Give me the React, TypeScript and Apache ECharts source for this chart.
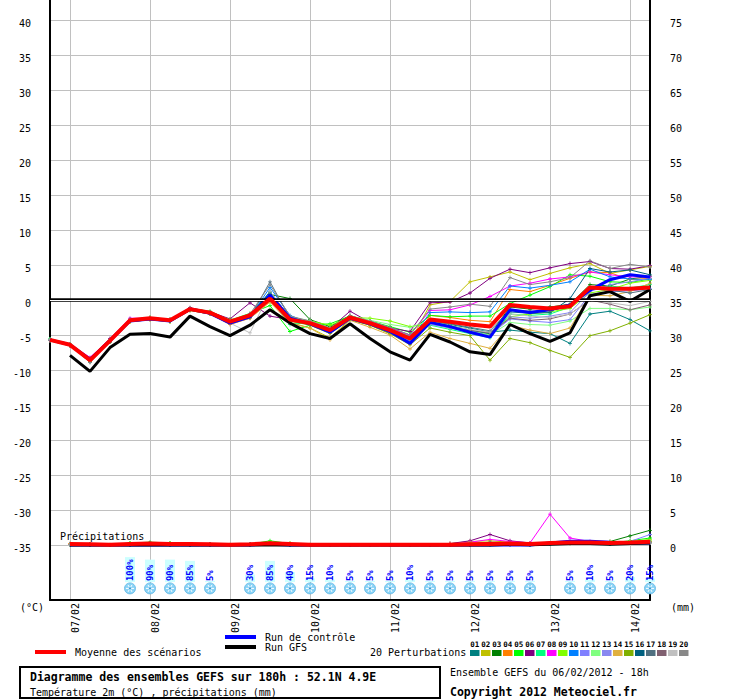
import React, { useEffect, useRef } from 'react';
import * as echarts from 'echarts';

const MONO = '"DejaVu Sans Mono", monospace';

const categories = [
  '06/02 18h', '07/02 00h', '07/02 06h', '07/02 12h', '07/02 18h',
  '08/02 00h', '08/02 06h', '08/02 12h', '08/02 18h',
  '09/02 00h', '09/02 06h', '09/02 12h', '09/02 18h',
  '10/02 00h', '10/02 06h', '10/02 12h', '10/02 18h',
  '11/02 00h', '11/02 06h', '11/02 12h', '11/02 18h',
  '12/02 00h', '12/02 06h', '12/02 12h', '12/02 18h',
  '13/02 00h', '13/02 06h', '13/02 12h', '13/02 18h',
  '14/02 00h', '14/02 06h',
];

const TEMP_TICKS = [-35, -30, -25, -20, -15, -10, -5, 0, 5, 10, 15, 20, 25, 30, 35, 40];
const PRECIP_TICKS = [0, 5, 10, 15, 20, 25, 30, 35, 40, 45, 50, 55, 60, 65, 70, 75];

// Temperatures 2m (°C)
const MEAN_T = [-5.7, -6.4, -8.6, -5.8, -2.9, -2.6, -2.9, -1.3, -1.8, -3.1, -2.2, 0.2, -2.8, -3.3, -4.3, -2.5, -3.3, -4.3, -5.5, -2.8, -3.1, -3.5, -3.8, -0.7, -1.0, -1.2, -0.9, 1.8, 1.6, 1.6, 1.8];
const GFS_T = [null, -7.9, -10.2, -6.8, -4.9, -4.8, -5.3, -2.3, -3.8, -5.1, -3.6, -1.4, -3.3, -4.8, -5.5, -3.4, -5.5, -7.4, -8.6, -4.9, -6.0, -7.4, -7.8, -3.5, -4.8, -5.9, -4.7, 0.6, 1.2, -0.2, 1.5];
const CTRL_T = [-5.7, -6.4, -8.5, -5.8, -3.0, -2.7, -3.0, -1.3, -1.9, -3.3, -2.4, 0.7, -2.6, -3.4, -4.6, -2.6, -3.4, -4.5, -6.2, -3.2, -3.8, -4.6, -5.3, -1.4, -1.8, -1.4, -0.7, 1.4, 2.9, 3.6, 3.3];

const PERT_T = [
  [-5.6, -6.3, -8.7, -5.7, -3.0, -2.7, -3.0, -1.4, -1.9, -3.0, -2.0, 1.0, -2.5, -3.0, -4.0, -2.4, -3.0, -4.0, -5.0, -3.0, -3.5, -4.0, -4.6, -4.3, -4.6, -4.8, -6.2, -2.0, -1.6, -2.8, -4.4],
  [-5.7, -6.4, -8.5, -5.6, -2.8, -2.5, -2.8, -1.2, -1.7, -3.2, -2.3, 0.5, -3.2, -4.0, -5.4, -2.8, -3.6, -4.8, -6.0, -0.7, -0.2, 2.6, 3.3, 4.0, 2.9, 3.8, 4.6, 5.2, 3.8, 4.3, 4.8],
  [-5.7, -6.5, -8.6, -5.9, -2.9, -2.6, -2.9, -1.3, -1.8, -3.0, -2.1, 0.8, 0.2, -2.8, -3.8, -2.2, -3.1, -4.2, -5.4, -3.3, -3.8, -4.4, -4.9, -1.0, -1.3, -1.0, -0.6, 2.2, 2.0, 3.0, 3.4],
  [-5.8, -6.4, -8.7, -5.9, -3.1, -2.8, -3.0, -1.4, -2.0, -3.5, -2.6, -0.2, -3.0, -3.5, -4.7, -2.7, -3.5, -4.6, -6.3, -2.2, -2.5, -2.9, -3.1, 1.5, 1.2, 2.1, 3.1, 4.0, 3.9, 2.9, 3.1],
  [-5.6, -6.3, -8.4, -5.7, -2.8, -2.5, -2.8, -1.2, -1.6, -2.9, -1.9, -0.8, -4.5, -3.6, -3.4, -2.3, -3.0, -3.8, -4.6, -2.2, -2.4, -2.3, -2.3, -0.5, 0.7, 1.9, 3.6, 3.4, 2.6, 2.5, 3.0],
  [-5.7, -6.4, -8.3, -5.5, -2.7, -2.6, -2.8, -1.1, -1.7, -2.7, -0.4, -2.3, -2.8, -3.0, -4.1, -1.6, -3.2, -4.0, -4.5, -0.4, -0.3, 1.0, 3.1, 4.4, 3.9, 4.6, 5.2, 5.5, 4.5, 4.4, 4.9],
  [-5.6, -6.4, -8.6, -5.8, -2.9, -2.6, -2.9, -1.3, -1.8, -3.1, -2.2, 0.3, -3.5, -3.2, -4.2, -2.4, -3.2, -4.1, -5.2, -3.6, -4.2, -4.8, -5.4, -2.0, -2.2, -2.0, -1.0, 1.5, 2.0, 1.7, 2.2],
  [-5.7, -6.3, -8.2, -5.6, -2.6, -2.6, -2.9, -1.3, -1.8, -3.0, -2.0, 0.5, -2.7, -3.2, -4.2, -2.3, -3.0, -4.1, -5.0, -1.5, -1.4, -0.7, 0.5, 2.0, 2.4, 3.0, 3.3, 4.0, 3.6, 3.3, 3.3],
  [-5.7, -6.3, -8.4, -5.7, -3.0, -2.7, -3.1, -1.4, -1.9, -2.8, -2.3, 0.0, -2.9, -3.0, -3.6, -2.5, -2.6, -3.0, -3.8, -3.4, -3.9, -4.4, -4.9, -2.4, -2.0, -1.7, -1.2, 1.0, 1.5, 2.4, 2.8],
  [-5.8, -6.5, -8.7, -5.9, -3.0, -2.7, -3.0, -1.4, -1.9, -3.2, -2.4, 1.8, -2.2, -3.3, -4.4, -2.6, -3.4, -4.4, -5.8, -1.8, -1.7, -1.8, -1.7, 2.0, 1.7, 2.1, 2.6, 4.4, 3.3, 3.0, 2.9],
  [-5.7, -6.4, -8.6, -5.8, -2.9, -2.7, -3.0, -1.3, -1.8, -3.1, -2.4, 0.4, -2.9, -3.5, -4.5, -2.7, -3.5, -4.6, -6.0, -3.4, -3.9, -4.4, -5.0, -2.7, -3.0, -3.2, -2.8, 0.8, 1.2, 1.3, 1.6],
  [-5.6, -6.3, -8.5, -5.7, -2.8, -2.6, -2.9, -1.3, -1.8, -3.0, -2.1, 0.0, -2.4, -3.0, -4.0, -2.3, -2.9, -3.5, -3.9, -3.0, -3.6, -4.3, -5.0, -3.2, -3.5, -3.6, -3.0, -1.2, -1.2, -1.4, -1.0],
  [-5.7, -6.4, -8.7, -5.9, -3.0, -2.7, -3.0, -1.4, -1.9, -3.2, -2.3, 0.2, -2.8, -3.4, -4.5, -2.6, -3.4, -4.4, -5.8, -3.5, -4.0, -4.6, -5.2, -2.4, -2.6, -2.3, -1.8, 1.2, 2.2, 2.6, 3.1],
  [-5.8, -6.5, -8.8, -6.0, -3.1, -2.8, -3.1, -1.5, -2.0, -3.4, -2.6, -0.3, -3.3, -4.0, -5.7, -2.9, -3.9, -5.0, -7.0, -4.6, -5.5, -6.2, -6.9, -3.6, -4.3, -4.8, -4.0, 0.7, 0.6, 1.2, 2.4],
  [-5.7, -6.5, -8.8, -6.0, -3.1, -2.8, -3.1, -1.5, -2.0, -3.3, -2.5, 0.3, -3.0, -3.6, -4.8, -2.8, -3.6, -4.8, -6.4, -4.0, -4.6, -5.1, -8.6, -5.5, -6.1, -7.2, -8.2, -5.1, -4.4, -3.3, -2.1],
  [-5.7, -6.4, -8.6, -5.8, -2.9, -2.7, -3.0, -1.3, -1.8, -3.1, -2.2, 1.2, -2.5, -3.2, -4.3, -2.6, -3.3, -4.3, -5.6, -3.2, -3.7, -4.3, -4.8, -1.7, -1.9, -1.8, 0.2, 4.5, 4.0, 4.3, 3.6],
  [-5.8, -6.5, -8.9, -6.0, -3.0, -2.7, -3.0, -1.4, -1.9, -3.3, -2.5, 2.6, -2.6, -3.3, -4.4, -2.5, -3.3, -4.2, -5.6, -3.0, -3.4, -3.9, -4.4, -1.4, -1.6, -1.5, -0.9, 1.6, 1.4, 1.0, 1.5],
  [-5.7, -6.4, -8.6, -5.8, -2.9, -2.6, -2.9, -1.3, -1.8, -3.1, -2.2, 0.6, -2.7, -3.3, -4.3, -2.5, -3.3, -4.3, -5.7, -3.2, -3.8, -4.3, -4.7, -2.6, -2.9, -2.7, -2.0, 0.0, -0.6, -1.4, -0.7],
  [-5.7, -6.4, -8.6, -5.8, -2.9, -2.6, -2.9, -1.3, -1.8, -3.3, -4.7, 1.2, -2.5, -3.1, -4.2, -2.4, -3.2, -4.3, -5.6, -3.3, -3.8, -4.2, -4.6, -2.0, -2.3, -2.5, -2.0, 0.0, -0.4, -0.8, -0.2],
  [-5.8, -6.5, -8.9, -5.6, -2.8, -2.5, -2.8, -1.2, -1.7, -3.0, -2.0, 2.2, -2.3, -3.0, -4.0, -2.3, -3.0, -3.9, -5.0, -1.3, -1.0, -0.6, -0.9, 3.2, 2.2, 2.6, 3.2, 5.6, 4.5, 5.1, 4.7],
];

// Precipitation (mm)
const MEAN_P = [null, 0.15, 0.1, 0.05, 0.15, 0.2, 0.15, 0.15, 0.1, 0.05, 0.1, 0.25, 0.15, 0.05, 0.05, 0.05, 0.05, 0.05, 0.05, 0.05, 0.05, 0.1, 0.15, 0.2, 0.15, 0.3, 0.35, 0.35, 0.3, 0.35, 0.45];
const CTRL_P = [null, 0, 0, 0, 0, 0, 0, 0, 0, 0, 0, 0.1, 0, 0, 0, 0, 0, 0, 0, 0, 0, 0, 0, 0, 0, 0.3, 0.55, 0.55, 0.4, 0.3, 0.3];
const GFS_P = [null, 0, 0, 0, 0, 0, 0, 0, 0, 0, 0, 0.05, 0, 0, 0, 0, 0, 0, 0, 0, 0, 0, 0, 0.1, 0.05, 0.1, 0.2, 0.2, 0.1, 0.2, 0.3];

const PERT_P = [
  [null, 0.1, 0.05, 0, 0.1, 0.2, 0.1, 0.1, 0.05, 0, 0.1, 0.2, 0.1, 0, 0, 0, 0, 0, 0, 0, 0, 0, 0.1, 0.2, 0.1, 0.2, 0.3, 0.3, 0.2, 0.4, 0.5],
  [null, 0.1, 0.1, 0, 0.2, 0.2, 0.2, 0.1, 0.1, 0, 0.1, 0.3, 0.2, 0, 0, 0, 0, 0, 0, 0, 0.2, 0.5, 0.6, 0.4, 0.2, 0.3, 0.3, 0.4, 0.3, 0.4, 0.6],
  [null, 0.1, 0.1, 0, 0.1, 0.2, 0.2, 0.1, 0.1, 0, 0.1, 0.3, 0.1, 0, 0, 0, 0, 0, 0, 0, 0, 0.1, 0.2, 0.2, 0.1, 0.3, 0.3, 0.3, 0.5, 1.3, 2.1],
  [null, 0.2, 0.1, 0.05, 0.2, 0.2, 0.15, 0.15, 0.1, 0.05, 0.1, 0.3, 0.2, 0.05, 0, 0, 0, 0, 0, 0, 0.1, 0.2, 0.3, 0.3, 0.2, 0.3, 0.4, 0.3, 0.3, 0.4, 0.5],
  [null, 0.1, 0.1, 0, 0.3, 0.4, 0.3, 0.1, 0.1, 0, 0.1, 0.6, 0.2, 0, 0, 0, 0, 0, 0, 0, 0, 0.1, 0.2, 0.1, 0.1, 0.3, 0.3, 0.3, 0.3, 0.6, 1.0],
  [null, 0.1, 0.1, 0, 0.1, 0.2, 0.1, 0.1, 0.1, 0, 0.1, 0.2, 0.1, 0, 0, 0, 0, 0, 0, 0, 0.2, 0.6, 1.5, 0.6, 0.3, 0.3, 0.3, 0.3, 0.2, 0.3, 0.4],
  [null, 0.1, 0.1, 0, 0.2, 0.2, 0.2, 0.1, 0.1, 0, 0.1, 0.3, 0.1, 0, 0, 0, 0, 0, 0, 0, 0, 0.1, 0.2, 0.2, 0.1, 0.2, 0.3, 0.3, 0.2, 0.3, 0.4],
  [null, 0.1, 0.1, 0, 0.1, 0.2, 0.1, 0.1, 0.1, 0, 0.1, 0.2, 0.1, 0, 0, 0, 0, 0, 0, 0, 0.1, 0.4, 0.8, 0.5, 0.3, 4.4, 1.0, 0.5, 0.3, 0.3, 0.4],
  [null, 0.1, 0.1, 0, 0.2, 0.3, 0.2, 0.1, 0.1, 0, 0.1, 0.4, 0.1, 0, 0, 0, 0, 0, 0, 0, 0, 0.1, 0.1, 0.1, 0.1, 0.3, 0.3, 0.4, 0.3, 0.5, 0.8],
  [null, 0.1, 0.1, 0, 0.1, 0.2, 0.1, 0.1, 0.1, 0, 0.1, 0.2, 0.1, 0, 0, 0, 0, 0, 0, 0, 0, 0.1, 0.2, 0.2, 0.1, 0.3, 0.4, 0.4, 0.3, 0.3, 0.4],
  [null, 0.1, 0.1, 0, 0.1, 0.2, 0.1, 0.1, 0.1, 0, 0.1, 0.2, 0.1, 0, 0, 0, 0, 0, 0, 0, 0, 0.1, 0.2, 0.2, 0.1, 0.2, 0.3, 0.3, 0.3, 0.5, 1.5],
  [null, 0.1, 0.1, 0, 0.2, 0.2, 0.2, 0.1, 0.1, 0, 0.1, 0.3, 0.1, 0, 0, 0, 0, 0, 0, 0, 0, 0.1, 0.1, 0.1, 0.1, 0.2, 0.3, 0.3, 0.2, 0.4, 0.6],
  [null, 0.1, 0.1, 0, 0.1, 0.2, 0.1, 0.1, 0.1, 0, 0.1, 0.2, 0.1, 0, 0, 0, 0, 0, 0, 0, 0, 0.1, 0.2, 0.1, 0.1, 0.2, 0.3, 0.3, 0.2, 0.3, 0.4],
  [null, 0.1, 0.1, 0, 0.1, 0.2, 0.2, 0.1, 0.1, 0, 0.1, 0.3, 0.1, 0, 0, 0, 0, 0, 0, 0, 0.1, 0.3, 0.4, 0.3, 0.2, 0.3, 0.4, 0.3, 0.5, 0.4, 0.5],
  [null, 0.1, 0.1, 0, 0.1, 0.2, 0.1, 0.1, 0.1, 0, 0.1, 0.2, 0.1, 0, 0, 0, 0, 0, 0, 0, 0, 0.1, 0.2, 0.1, 0.1, 0.2, 0.2, 0.3, 0.2, 0.3, 0.4],
  [null, 0.1, 0.1, 0, 0.1, 0.2, 0.1, 0.1, 0.1, 0, 0.1, 0.2, 0.1, 0, 0, 0, 0, 0, 0, 0, 0, 0.1, 0.1, 0.1, 0.1, 0.3, 0.3, 0.3, 0.2, 0.3, 0.3],
  [null, 0.1, 0.1, 0, 0.1, 0.2, 0.1, 0.1, 0.1, 0, 0.1, 0.3, 0.1, 0, 0, 0, 0, 0, 0, 0, 0, 0.1, 0.2, 0.1, 0.1, 0.2, 0.3, 0.3, 0.2, 0.3, 0.4],
  [null, 0.1, 0.1, 0, 0.1, 0.2, 0.1, 0.1, 0.1, 0, 0.1, 0.2, 0.1, 0, 0, 0, 0, 0, 0, 0, 0, 0.2, 0.4, 0.3, 0.1, 0.2, 0.3, 0.3, 0.2, 0.3, 0.3],
  [null, 0.1, 0.1, 0, 0.1, 0.1, 0.1, 0.1, 0.1, 0, 0.1, 0.2, 0.1, 0, 0, 0, 0, 0, 0, 0, 0, 0.1, 0.1, 0.1, 0.1, 0.2, 0.2, 0.2, 0.2, 0.2, 0.3],
  [null, 0.1, 0.1, 0, 0.1, 0.2, 0.1, 0.1, 0.1, 0, 0.1, 0.2, 0.1, 0, 0, 0, 0, 0, 0, 0, 0, 0.1, 0.1, 0.1, 0.1, 0.2, 0.2, 0.3, 0.2, 0.3, 0.3],
];

// Probability of snow (%) per 6h step
const SNOW_PROB = [null, null, null, null, 100, 90, 90, 85, 5, null, 30, 85, 40, 15, 10, 5, 5, 5, 10, 5, 5, 5, 5, 5, 5, null, 5, 10, 5, 20, 15];

const PERT_COLORS = ['#008080', '#c0c000', '#008000', '#ff8000', '#00ff00', '#800080', '#00ff80', '#ff00ff', '#80ff00', '#0080ff', '#8080ff', '#80ff80', '#8888f0', '#e0b040', '#80b000', '#006080', '#507080', '#806070', '#c0c0c0', '#888888'];
const PERT_LABELS = ['01', '02', '03', '04', '05', '06', '07', '08', '09', '10', '11', '12', '13', '14', '15', '16', '17', '18', '19', '20'];

const T_MIN = -300 / 7;
const T_MAX = 300 / 7;
const P_OFFSET = 35;
const PROB_BASE = -40.3;
const PROB_UNIT = 0.25 / 7;
const FLAKE_Y = -41.2;

const PLUS = 'path://M0,2H5V3H0Z M2,0H3V5H2Z';

function txt(text: string, x: number, y: number, size: number, bold = false, color = '#000', align = 'left') {
  return {
    type: 'text', x, y, silent: true, z: 10,
    style: { text, fill: color, font: `${bold ? 'bold ' : ''}${size}px ${MONO}`, align, verticalAlign: 'middle' },
  };
}
function seg(x1: number, y1: number, x2: number, y2: number, color: string, w: number) {
  return { type: 'line', silent: true, z: 10, shape: { x1, y1, x2, y2 }, style: { stroke: color, lineWidth: w } };
}

export default function App() {
  const ref = useRef<HTMLDivElement>(null);
  useEffect(() => {
    if (!ref.current) return;
    const chart = echarts.init(ref.current, null, { renderer: 'svg' });

    const series: any[] = [];
    PERT_T.forEach((d, k) => {
      const s: any = {
        type: 'line', name: 'P' + PERT_LABELS[k], data: d, xAxisIndex: 0, yAxisIndex: 0,
        symbol: PLUS, symbolSize: 4, showSymbol: true,
        lineStyle: { color: PERT_COLORS[k], width: 1 }, itemStyle: { color: PERT_COLORS[k] },
        z: 2, silent: true,
      };
      if (k === 0) {
        s.markLine = {
          silent: true, symbol: ['none', 'none'], label: { show: false },
          data: [
            { yAxis: 0, lineStyle: { color: '#000', width: 3.6, type: 'solid' } },
            { yAxis: 0, lineStyle: { color: '#fff', width: 1.2, type: 'solid' } },
          ],
        };
      }
      series.push(s);
    });
    PERT_P.forEach((d, k) => {
      series.push({
        type: 'line', data: d, xAxisIndex: 0, yAxisIndex: 1,
        symbol: PLUS, symbolSize: 4, lineStyle: { color: PERT_COLORS[k], width: 1 },
        itemStyle: { color: PERT_COLORS[k] }, z: 2, silent: true,
      });
    });
    const main = (data: any[], color: string, width: number, yi: number, z: number) => ({
      type: 'line', data, xAxisIndex: 0, yAxisIndex: yi, symbol: 'none',
      lineStyle: { color, width }, itemStyle: { color }, z, silent: true,
    });
    series.push(main(CTRL_T, '#0000ff', 3, 0, 3));
    series.push(main(GFS_T, '#000000', 3, 0, 4));
    series.push(main(MEAN_T, '#ff0000', 4, 0, 5));
    series.push(main(CTRL_P, '#0000ff', 3, 1, 3));
    series.push(main(GFS_P, '#000000', 3, 1, 4));
    series.push(main(MEAN_P, '#ff0000', 4, 1, 5));

    series.push({
      type: 'custom', xAxisIndex: 0, yAxisIndex: 0, silent: true, clip: false, z: 6,
      data: SNOW_PROB.map((p, i) => (p == null ? null : [i, p])).filter(Boolean),
      renderItem: (params: any, api: any) => {
        const i = api.value(0);
        const p = api.value(1);
        const base = api.coord([i, PROB_BASE]);
        const top = api.coord([i, PROB_BASE + p * PROB_UNIT]);
        const fl = api.coord([i, FLAKE_Y]);
        const x = base[0];
        const cy = fl[1];
        const children: any[] = [
          { type: 'rect', shape: { x: x - 5, y: top[1], width: 10, height: base[1] - top[1] }, style: { fill: '#ccffff' } },
          {
            type: 'text', x: x, y: base[1] - 1, rotation: Math.PI / 2,
            style: { text: p + '%', fill: '#0000ff', font: `bold 9px ${MONO}`, align: 'left', verticalAlign: 'middle' },
          },
          { type: 'circle', shape: { cx: x, cy, r: 5.5 }, style: { fill: '#8ad3f6', stroke: '#5fb6e4', lineWidth: 0.8 } },
        ];
        for (let a = 0; a < 3; a++) {
          const ang = (a * Math.PI) / 3;
          const dx = Math.cos(ang) * 4;
          const dy = Math.sin(ang) * 4;
          children.push({ type: 'line', shape: { x1: x - dx, y1: cy - dy, x2: x + dx, y2: cy + dy }, style: { stroke: '#ffffff', lineWidth: 1 } });
        }
        children.push({ type: 'circle', shape: { cx: x, cy, r: 1.2 }, style: { fill: '#3c9fd8' } });
        return { type: 'group', children };
      },
    });

    const graphics: any[] = [
      txt('(°C)', 20, 607, 10),
      txt('(mm)', 671, 607, 10),
      txt('Précipitations', 60, 536, 10),
      seg(35, 652, 66, 652, '#ff0000', 4),
      txt('Moyenne des scénarios', 75, 652, 10),
      seg(225, 637, 256, 637, '#0000ff', 4),
      txt('Run de contrôle', 265, 637, 10),
      seg(225, 647, 256, 647, '#000000', 4),
      txt('Run GFS', 265, 647, 10),
      txt('20 Perturbations', 370, 652, 10),
      { type: 'rect', silent: true, z: 10, shape: { x: 20, y: 667, width: 420, height: 31 }, style: { fill: 'none', stroke: '#000', lineWidth: 2 } },
      txt('Diagramme des ensembles GEFS sur 180h : 52.1N 4.9E', 30, 677, 11.5, true),
      txt('Température 2m (°C) , précipitations (mm)', 30, 692, 10),
      txt('Ensemble GEFS du 06/02/2012 - 18h', 450, 672, 10),
      txt('Copyright 2012 Meteociel.fr', 450, 692, 11.5, true),
    ];
    PERT_LABELS.forEach((lab, k) => {
      const x = 470 + k * 11;
      graphics.push(txt(lab, x + 4.75, 644.5, 7.5, true, '#000', 'center'));
      graphics.push({ type: 'rect', silent: true, z: 10, shape: { x, y: 650, width: 9.5, height: 6 }, style: { fill: PERT_COLORS[k] } });
    });

    const yLabel = { fontSize: 10, color: '#000', fontFamily: MONO, verticalAlign: 'top', lineHeight: 7 };

    const option: any = {
      animation: false,
      backgroundColor: '#ffffff',
      textStyle: { fontFamily: MONO },
      grid: { left: 50, top: 0, width: 600, height: 600, containLabel: false },
      xAxis: {
        type: 'category', data: categories, boundaryGap: false,
        axisLine: { show: true, onZero: false, lineStyle: { color: '#000', width: 2 } },
        axisTick: { show: false },
        axisLabel: {
          interval: (i: number) => i % 4 === 1, rotate: 90, margin: 3,
          formatter: (v: string) => v.slice(0, 5), verticalAlign: 'top',
          fontSize: 10, color: '#000', fontFamily: MONO,
        },
        splitLine: { show: true, interval: (i: number) => i % 4 === 1, lineStyle: { color: '#c0c0c0', width: 1 } },
      },
      yAxis: [
        {
          type: 'value', min: T_MIN, max: T_MAX, position: 'left',
          axisLine: { show: true, lineStyle: { color: '#000', width: 2 } },
          axisTick: { show: false, customValues: TEMP_TICKS },
          axisLabel: { customValues: TEMP_TICKS, margin: 19, ...yLabel },
          splitLine: { show: true, lineStyle: { color: '#c0c0c0', width: 1 } },
        },
        {
          type: 'value', min: T_MIN + P_OFFSET, max: T_MAX + P_OFFSET, position: 'right',
          axisLine: { show: true, lineStyle: { color: '#000', width: 2 } },
          axisTick: { show: false, customValues: PRECIP_TICKS },
          axisLabel: { customValues: PRECIP_TICKS, margin: 20, ...yLabel },
          splitLine: { show: false },
        },
      ],
      graphic: { elements: graphics },
      series,
    };
    chart.setOption(option);
    return () => chart.dispose();
  }, []);
  return (
    <div
      ref={ref}
      style={{ position: 'absolute', left: 0, top: 0, width: 740, height: 700, background: '#fff' }}
    />
  );
}
